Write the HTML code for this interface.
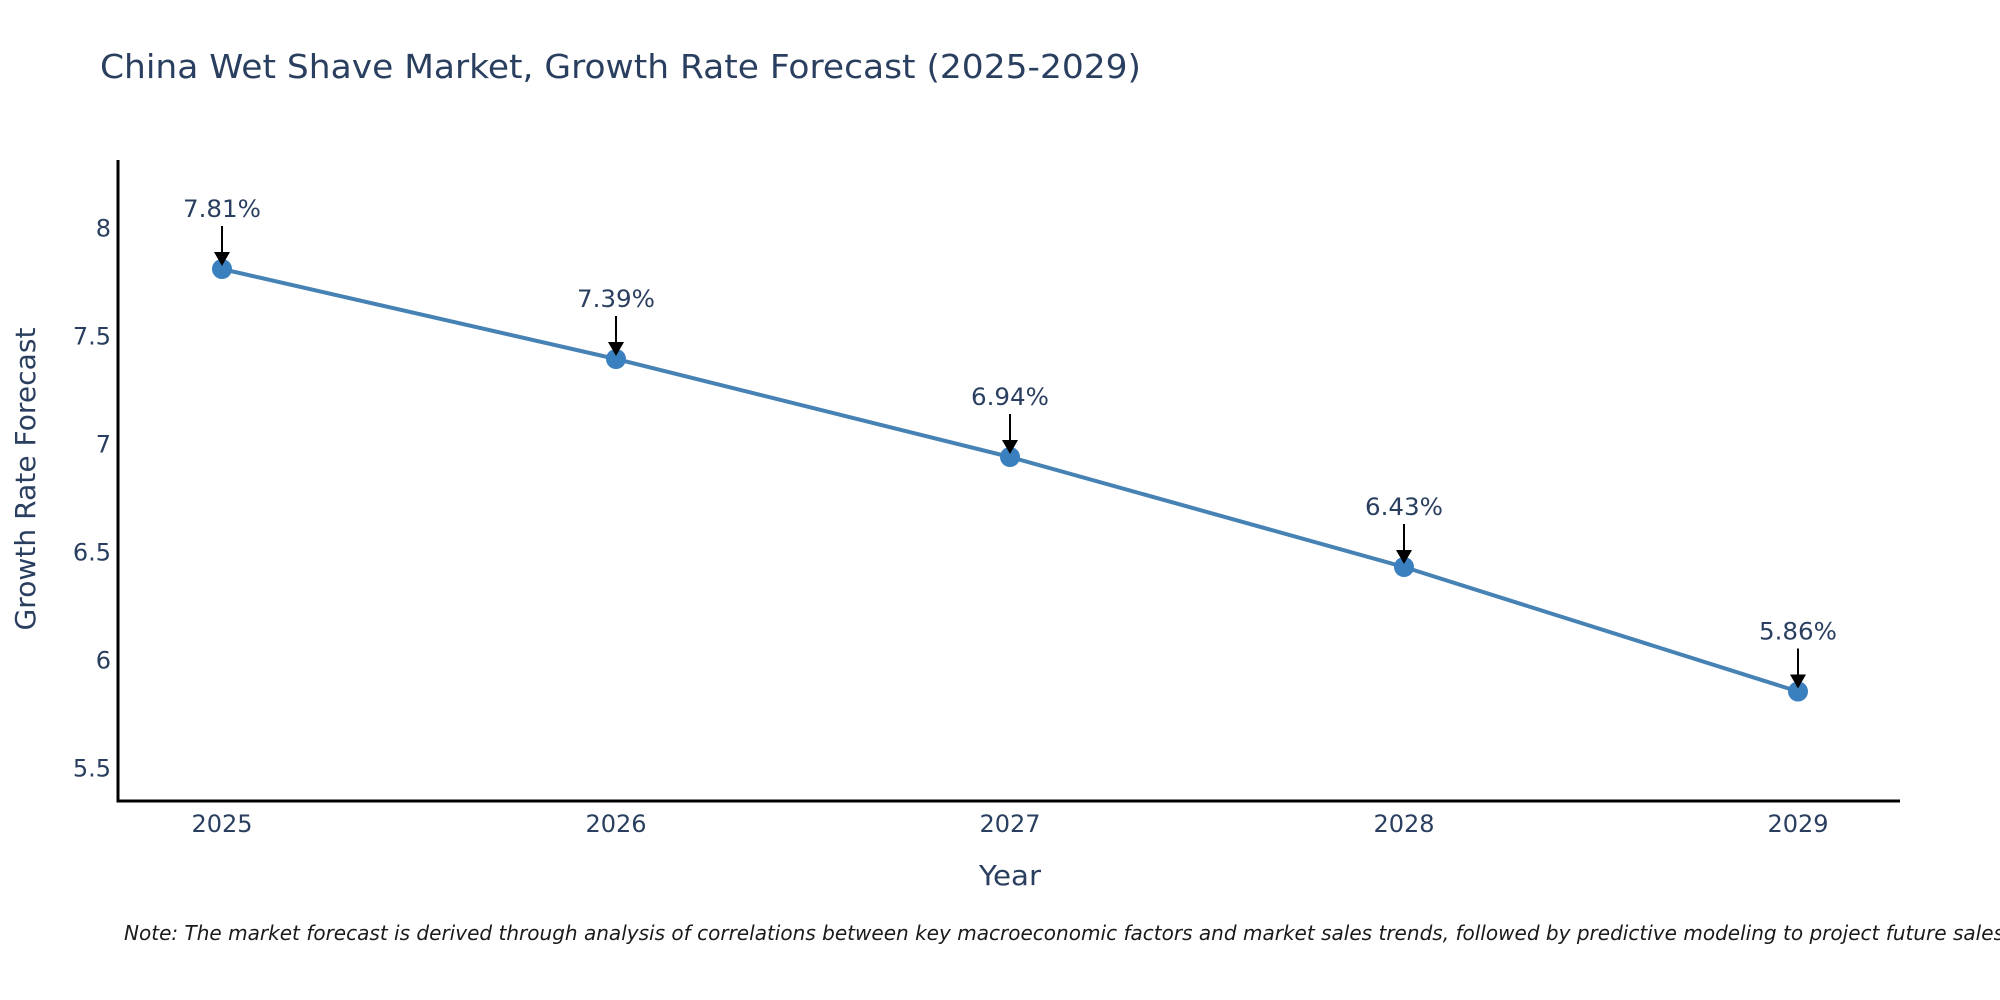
<!DOCTYPE html>
<html>
<head>
<meta charset="utf-8">
<style>
  html, body { margin: 0; padding: 0; background: #ffffff; }
  body { width: 2000px; height: 1000px; overflow: hidden; }
  svg { display: block; }
  text { font-family: "DejaVu Sans", "Liberation Sans", sans-serif; fill: #2a3f5f; }
</style>
</head>
<body>
<svg width="2000" height="1000" viewBox="0 0 2000 1000" xmlns="http://www.w3.org/2000/svg">
  <rect x="0" y="0" width="2000" height="1000" fill="#ffffff"/>

  <!-- Title -->
  <text x="100" y="78" font-size="33" textLength="1041" lengthAdjust="spacingAndGlyphs">China Wet Shave Market, Growth Rate Forecast (2025-2029)</text>

  <!-- Axes -->
  <line x1="118" y1="160" x2="118" y2="802.5" stroke="#000" stroke-width="3"/>
  <line x1="116.5" y1="801" x2="1900" y2="801" stroke="#000" stroke-width="3"/>

  <!-- Y tick labels -->
  <g font-size="24" text-anchor="end">
    <text x="111" y="236.5">8</text>
    <text x="111" y="344.5">7.5</text>
    <text x="111" y="452.5">7</text>
    <text x="111" y="560.5">6.5</text>
    <text x="111" y="668.5">6</text>
    <text x="111" y="776.5">5.5</text>
  </g>

  <!-- X tick labels -->
  <g font-size="24" text-anchor="middle">
    <text x="222" y="832">2025</text>
    <text x="616" y="832">2026</text>
    <text x="1010" y="832">2027</text>
    <text x="1404" y="832">2028</text>
    <text x="1798" y="832">2029</text>
  </g>

  <!-- Axis titles -->
  <text x="1010" y="885" font-size="28" text-anchor="middle" textLength="62" lengthAdjust="spacingAndGlyphs">Year</text>
  <text transform="translate(35,479) rotate(-90)" x="0" y="0" font-size="28" text-anchor="middle" textLength="303" lengthAdjust="spacingAndGlyphs">Growth Rate Forecast</text>

  <!-- Series line -->
  <polyline points="222,269 616,359 1010,457 1404,567 1798,691.5" fill="none" stroke="#4682b4" stroke-width="4" stroke-linejoin="round"/>

  <!-- Markers -->
  <g fill="#3a80bf">
    <circle cx="222" cy="269" r="10"/>
    <circle cx="616" cy="359" r="10"/>
    <circle cx="1010" cy="457" r="10"/>
    <circle cx="1404" cy="567" r="10"/>
    <circle cx="1798" cy="691.5" r="10"/>
  </g>

  <!-- Annotations: arrows -->
  <g stroke="#000" stroke-width="2">
    <line x1="222" y1="226" x2="222" y2="255"/>
    <line x1="616" y1="316" x2="616" y2="345"/>
    <line x1="1010" y1="414" x2="1010" y2="443"/>
    <line x1="1404" y1="524" x2="1404" y2="553"/>
    <line x1="1798" y1="648.5" x2="1798" y2="677.5"/>
  </g>
  <g fill="#000">
    <polygon points="214,252 230,252 222,266"/>
    <polygon points="608,342 624,342 616,356"/>
    <polygon points="1002,440 1018,440 1010,454"/>
    <polygon points="1396,550 1412,550 1404,564"/>
    <polygon points="1790,674.5 1806,674.5 1798,688.5"/>
  </g>

  <!-- Annotations: labels -->
  <g font-size="24" text-anchor="middle">
    <text x="222" y="217" textLength="78" lengthAdjust="spacingAndGlyphs">7.81%</text>
    <text x="616" y="307" textLength="78" lengthAdjust="spacingAndGlyphs">7.39%</text>
    <text x="1010" y="405" textLength="78" lengthAdjust="spacingAndGlyphs">6.94%</text>
    <text x="1404" y="515" textLength="78" lengthAdjust="spacingAndGlyphs">6.43%</text>
    <text x="1798" y="639.5" textLength="78" lengthAdjust="spacingAndGlyphs">5.86%</text>
  </g>

  <!-- Note -->
  <text x="124" y="940" font-size="20" font-style="italic" style="fill:#1a1a1a" textLength="1880" lengthAdjust="spacingAndGlyphs">Note: The market forecast is derived through analysis of correlations between key macroeconomic factors and market sales trends, followed by predictive modeling to project future sales</text>
</svg>
</body>
</html>
